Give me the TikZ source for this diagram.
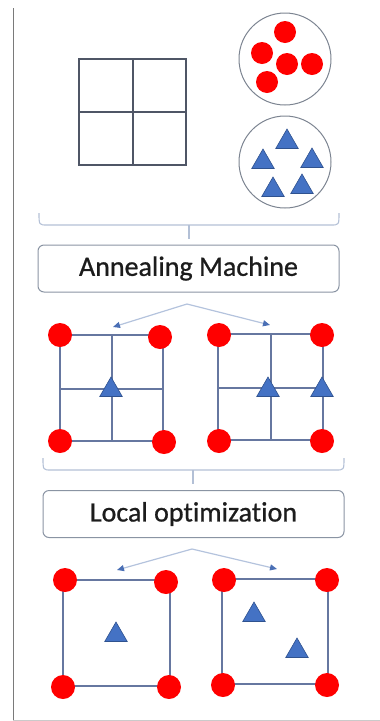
\documentclass[tikz,border=0pt]{standalone}
\usepackage{fontspec}
\setmainfont{Carlito}
\newfontfamily\panelfont[FakeBold=0.8,Ligatures=NoCommon]{Carlito}
\usetikzlibrary{shapes.geometric,arrows.meta}

\definecolor{dotred}{HTML}{FF0000}
\definecolor{triblue}{HTML}{4472C4}
\definecolor{triedge}{HTML}{2F528F}
\definecolor{gridgray}{HTML}{4F5666}
\definecolor{gridblue}{HTML}{6677A0}
\definecolor{ringgray}{HTML}{7C8491}
\definecolor{boxgray}{HTML}{8A94A3}
\definecolor{bracecol}{HTML}{B3C0D6}
\definecolor{flowcol}{HTML}{B4C3DD}
\definecolor{tipcol}{HTML}{4A6FB5}
\definecolor{framegray}{HTML}{7A7A7A}
\definecolor{textcol}{HTML}{1C1C1C}

\begin{document}
\begin{tikzpicture}[x=1pt,y=-1pt,
  dot/.style={circle,fill=dotred,inner sep=0pt,minimum size=22pt},
  bigdot/.style={dot,minimum size=24pt},
  tri/.style={regular polygon,regular polygon sides=3,fill=triblue,draw=triedge,
    line width=0.6pt,inner sep=0pt,minimum size=26pt},
  ring/.style={circle,draw=ringgray,line width=1pt,inner sep=0pt,minimum size=92pt},
  topgrid/.style={draw=gridgray,line width=1.2pt},
  lattice/.style={draw=gridblue,line width=1.4pt},
  brace/.style={draw=bracecol,line width=1.1pt},
  panel/.style={draw=boxgray,line width=1pt,rounded corners=6pt,
    minimum width=301pt,minimum height=47pt,inner sep=0pt,
    font=\panelfont\fontsize{28}{30}\selectfont,text=textcol},
  flow/.style={draw=flowcol,line width=1.2pt,
    -{Triangle[length=7pt,width=6pt,color=tipcol]}}
]
\useasboundingbox (0,0) rectangle (380,721);

% frame edges
\draw[framegray,line width=0.9pt] (13,8) -- (13,721);
\draw[framegray!40,line width=0.8pt] (13,720) -- (380,720);

% ---- input: empty 2x2 grid ----
\draw[topgrid] (79,59) rectangle (186,165);
\draw[topgrid] (133,59) -- (133,165);
\draw[topgrid] (79,112) -- (186,112);

% ---- input: pool of dots ----
\node[ring] (dotpool) at (285,59) {};
\node[dot] (p1) at (285,32) {};
\node[dot] (p2) at (262,53) {};
\node[dot] (p3) at (287,64) {};
\node[dot] (p4) at (312,64) {};
\node[dot] (p5) at (267,82) {};

% ---- input: pool of triangles ----
\node[ring] (tripool) at (285,162) {};
\node[tri] (q1) at (287,142) {};
\node[tri] (q2) at (263,162) {};
\node[tri] (q3) at (312,161) {};
\node[tri] (q4) at (273,190) {};
\node[tri] (q5) at (302,187) {};

% ---- brace collecting the inputs ----
\draw[brace] (39,213) .. controls (39,225) .. (47,225) -- (331,225)
  .. controls (339,225) .. (339,213);
\coordinate (b1) at (189,225);
\coordinate (b1end) at (189,239);
\draw[brace] (b1) -- (b1end);

% ---- annealing step ----
\node[panel] (anneal) at (188.5,268.5) {Annealing Machine};
\coordinate (as) at (187,304);
\coordinate (al) at (113,327);
\coordinate (ar) at (270,325);
\draw[flow] (as) -- (al);
\draw[flow] (as) -- (ar);

% annealed layout, left
\draw[lattice] (60,335) rectangle (163,441);
\draw[lattice] (112,335) -- (112,441);
\draw[lattice] (60,389) -- (163,389);
\node[bigdot] (la) at (60,335) {};
\node[bigdot] (lb) at (160,337) {};
\node[bigdot] (lc) at (60,441) {};
\node[bigdot] (ld) at (164,442) {};
\node[tri] (lt) at (111,390) {};

% annealed layout, right
\draw[lattice] (218,334) rectangle (323,440);
\draw[lattice] (271,334) -- (271,440);
\draw[lattice] (218,388) -- (323,388);
\node[bigdot] (ra) at (219,335) {};
\node[bigdot] (rb) at (322,335) {};
\node[bigdot] (rc) at (219,441) {};
\node[bigdot] (rd) at (322,441) {};
\node[tri] (rt1) at (268,390) {};
\node[tri] (rt2) at (322,390) {};

% ---- brace collecting the annealed layouts ----
\draw[brace] (43,458) .. controls (43,470) .. (51,470) -- (336,470)
  .. controls (344,470) .. (344,458);
\coordinate (b2) at (193,470);
\coordinate (b2end) at (193,484);
\draw[brace] (b2) -- (b2end);

% ---- local optimization step ----
\node[panel] (localopt) at (193.5,514) {Local optimization};
\coordinate (os) at (192,549);
\coordinate (ol) at (117,570);
\coordinate (or) at (277,569);
\draw[flow] (os) -- (ol);
\draw[flow] (os) -- (or);

% optimized layout, left
\draw[lattice] (63,580) rectangle (170,686);
\node[bigdot] (ma) at (65,580) {};
\node[bigdot] (mb) at (166,582) {};
\node[bigdot] (mc) at (63,687) {};
\node[bigdot] (md) at (169,687) {};
\node[tri] (mt) at (116,635) {};

% optimized layout, right
\draw[lattice] (222,579) rectangle (328,684);
\node[bigdot] (na) at (224,580) {};
\node[bigdot] (nb) at (327,580) {};
\node[bigdot] (nc) at (223,685) {};
\node[bigdot] (nd) at (327,685) {};
\node[tri] (nt1) at (254,615) {};
\node[tri] (nt2) at (297,651) {};
\end{tikzpicture}
\end{document}
